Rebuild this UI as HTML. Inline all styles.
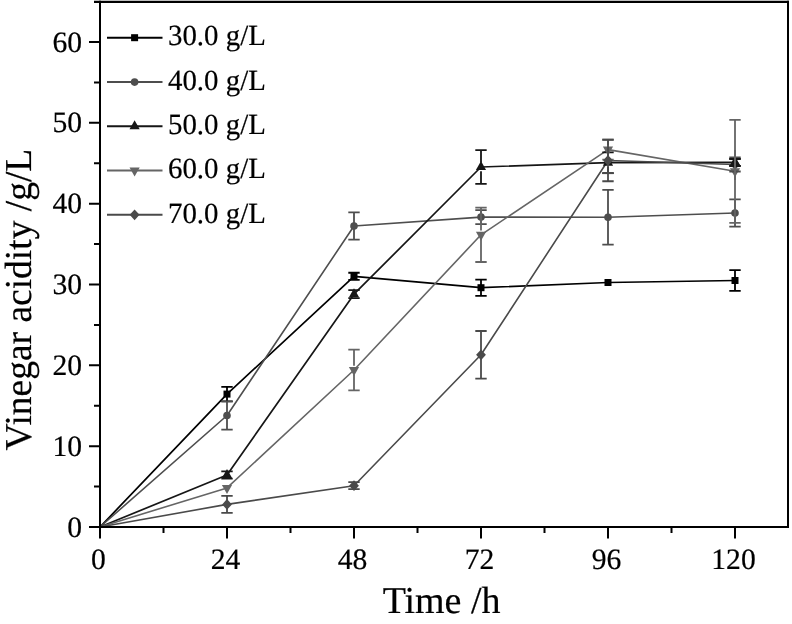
<!DOCTYPE html>
<html><head><meta charset="utf-8"><style>
html,body{margin:0;padding:0;background:#fff;width:792px;height:624px;overflow:hidden}
svg{display:block}
svg{will-change:transform}
text{text-rendering:geometricPrecision;stroke:#000;stroke-width:0.2px}
text{font-family:"Liberation Serif",serif}
</style></head><body>
<svg width="792" height="624" viewBox="0 0 792 624">
<rect width="792" height="624" fill="#fff"/>
<polyline points="100.00,527.00 227.00,394.10 354.00,276.35 481.00,287.70 608.00,282.50 735.00,280.50" fill="none" stroke="#000000" stroke-width="1.7" stroke-linejoin="round"/>
<polyline points="100.00,527.00 227.00,415.50 354.00,226.00 481.00,217.10 608.00,217.20 735.00,213.00" fill="none" stroke="#4e4e4e" stroke-width="1.6" stroke-linejoin="round"/>
<polyline points="100.00,527.00 227.00,475.00 354.00,294.20 481.00,167.00 608.00,162.70 735.00,162.40" fill="none" stroke="#161616" stroke-width="1.7" stroke-linejoin="round"/>
<polyline points="100.00,527.00 227.00,487.90 354.00,370.00 481.00,234.80 608.00,149.60 735.00,171.30" fill="none" stroke="#656565" stroke-width="1.6" stroke-linejoin="round"/>
<polyline points="100.00,527.00 227.00,504.40 354.00,485.70 481.00,354.80 608.00,160.50 735.00,164.50" fill="none" stroke="#4a4a4a" stroke-width="1.6" stroke-linejoin="round"/>
<path d="M227.00 386.80V401.40M221.30 386.80H232.70M221.30 401.40H232.70M354.00 272.75V279.95M348.30 272.75H359.70M348.30 279.95H359.70M481.00 279.60V295.80M475.30 279.60H486.70M475.30 295.80H486.70M735.00 270.10V290.90M729.30 270.10H740.70M729.30 290.90H740.70" fill="none" stroke="#000000" stroke-width="1.8"/>
<rect x="223.50" y="390.60" width="7.0" height="7.0" fill="#000000"/>
<rect x="350.50" y="272.85" width="7.0" height="7.0" fill="#000000"/>
<rect x="477.50" y="284.20" width="7.0" height="7.0" fill="#000000"/>
<rect x="604.50" y="279.00" width="7.0" height="7.0" fill="#000000"/>
<rect x="731.50" y="277.00" width="7.0" height="7.0" fill="#000000"/>
<path d="M227.00 401.30V429.70M221.30 401.30H232.70M221.30 429.70H232.70M354.00 212.40V239.60M348.30 212.40H359.70M348.30 239.60H359.70M481.00 210.10V224.10M475.30 210.10H486.70M475.30 224.10H486.70M608.00 189.80V244.60M602.30 189.80H613.70M602.30 244.60H613.70M735.00 199.40V226.60M729.30 199.40H740.70M729.30 226.60H740.70" fill="none" stroke="#4e4e4e" stroke-width="1.8"/>
<circle cx="227.00" cy="415.50" r="3.8" fill="#4e4e4e"/>
<circle cx="354.00" cy="226.00" r="3.8" fill="#4e4e4e"/>
<circle cx="481.00" cy="217.10" r="3.8" fill="#4e4e4e"/>
<circle cx="608.00" cy="217.20" r="3.8" fill="#4e4e4e"/>
<circle cx="735.00" cy="213.00" r="3.8" fill="#4e4e4e"/>
<path d="M221.30 471.40H232.70M221.30 478.60H232.70M348.30 290.20H359.70M348.30 298.20H359.70M481.00 150.15V162.70M481.00 171.30V183.85M475.30 150.15H486.70M475.30 183.85H486.70M608.00 152.30V158.40M608.00 167.00V173.10M602.30 152.30H613.70M602.30 173.10H613.70M729.30 158.90H740.70M729.30 165.90H740.70" fill="none" stroke="#161616" stroke-width="1.8"/>
<polygon points="227.00,469.00 232.10,478.00 221.90,478.00" fill="#161616"/>
<polygon points="354.00,288.20 359.10,297.20 348.90,297.20" fill="#161616"/>
<polygon points="481.00,161.00 486.10,170.00 475.90,170.00" fill="#161616"/>
<polygon points="608.00,156.70 613.10,165.70 602.90,165.70" fill="#161616"/>
<polygon points="735.00,156.40 740.10,165.40 729.90,165.40" fill="#161616"/>
<path d="M354.00 349.60V365.70M354.00 374.30V390.40M348.30 349.60H359.70M348.30 390.40H359.70M481.00 207.60V230.50M481.00 239.10V262.00M475.30 207.60H486.70M475.30 262.00H486.70M608.00 139.60V145.30M608.00 153.90V159.60M602.30 139.60H613.70M602.30 159.60H613.70M735.00 119.80V167.00M735.00 175.60V222.80M729.30 119.80H740.70M729.30 222.80H740.70" fill="none" stroke="#656565" stroke-width="1.8"/>
<polygon points="227.00,493.90 232.10,484.90 221.90,484.90" fill="#656565"/>
<polygon points="354.00,376.00 359.10,367.00 348.90,367.00" fill="#656565"/>
<polygon points="481.00,240.80 486.10,231.80 475.90,231.80" fill="#656565"/>
<polygon points="608.00,155.60 613.10,146.60 602.90,146.60" fill="#656565"/>
<polygon points="735.00,177.30 740.10,168.30 729.90,168.30" fill="#656565"/>
<path d="M227.00 495.90V512.90M221.30 495.90H232.70M221.30 512.90H232.70M354.00 482.20V489.20M348.30 482.20H359.70M348.30 489.20H359.70M481.00 331.00V378.60M475.30 331.00H486.70M475.30 378.60H486.70M608.00 139.75V181.25M602.30 139.75H613.70M602.30 181.25H613.70M735.00 157.50V171.50M729.30 157.50H740.70M729.30 171.50H740.70" fill="none" stroke="#4a4a4a" stroke-width="1.8"/>
<polygon points="227.00,499.00 231.90,504.40 227.00,509.80 222.10,504.40" fill="#4a4a4a"/>
<polygon points="354.00,480.30 358.90,485.70 354.00,491.10 349.10,485.70" fill="#4a4a4a"/>
<polygon points="481.00,349.40 485.90,354.80 481.00,360.20 476.10,354.80" fill="#4a4a4a"/>
<polygon points="608.00,155.10 612.90,160.50 608.00,165.90 603.10,160.50" fill="#4a4a4a"/>
<polygon points="735.00,159.10 739.90,164.50 735.00,169.90 730.10,164.50" fill="#4a4a4a"/>
<path d="M729.30 158.90H740.70M729.30 165.90H740.70" stroke="#161616" stroke-width="2"/>
<polygon points="735.00,156.40 740.10,165.40 729.90,165.40" fill="#161616"/>
<path d="M735.00 150V180" stroke="#656565" stroke-width="2"/>
<path d="M602.30 173.1H613.70" stroke="#4a4a4a" stroke-width="2"/>
<g fill="none" stroke="#000" stroke-width="2">
<path d="M94 1.8H789" stroke-width="2.2"/>
<path d="M100 0.7V528M788 0.7V528M99 527H789"/>
<path d="M89 527.00H100M94 486.58H100M89 446.17H100M94 405.75H100M89 365.33H100M94 324.92H100M89 284.50H100M94 244.08H100M89 203.67H100M94 163.25H100M89 122.83H100M94 82.42H100M89 42.00H100M100.00 527V538.4M163.50 527V533.1M227.00 527V538.4M290.50 527V533.1M354.00 527V538.4M417.50 527V533.1M481.00 527V538.4M544.50 527V533.1M608.00 527V538.4M671.50 527V533.1M735.00 527V538.4"/>
</g>
<g font-family="Liberation Serif" font-size="29.6" fill="#000">
<text transform="translate(82.0,536.50) scale(1.0,1.0)" text-anchor="end">0</text>
<text transform="translate(82.0,455.67) scale(1.0,1.0)" text-anchor="end">10</text>
<text transform="translate(82.0,374.83) scale(1.0,1.0)" text-anchor="end">20</text>
<text transform="translate(82.0,294.00) scale(1.0,1.0)" text-anchor="end">30</text>
<text transform="translate(82.0,213.17) scale(1.0,1.0)" text-anchor="end">40</text>
<text transform="translate(82.0,132.33) scale(1.0,1.0)" text-anchor="end">50</text>
<text transform="translate(82.0,51.50) scale(1.0,1.0)" text-anchor="end">60</text>
<text transform="translate(98.50,569.0) scale(1.0,1.0)" text-anchor="middle">0</text>
<text transform="translate(225.50,569.0) scale(1.0,1.0)" text-anchor="middle">24</text>
<text transform="translate(352.50,569.0) scale(1.0,1.0)" text-anchor="middle">48</text>
<text transform="translate(479.50,569.0) scale(1.0,1.0)" text-anchor="middle">72</text>
<text transform="translate(606.50,569.0) scale(1.0,1.0)" text-anchor="middle">96</text>
<text transform="translate(733.50,569.0) scale(1.0,1.0)" text-anchor="middle">120</text>
</g>
<text x="441.6" y="613" font-family="Liberation Serif" font-size="38" text-anchor="middle">Time /h</text>
<text transform="translate(31.3,299.6) rotate(-90) scale(0.986,1)" font-family="Liberation Serif" font-size="38" text-anchor="middle">Vinegar acidity /g/L</text>
<path d="M107 37.7H162.5" stroke="#000000" stroke-width="2"/>
<rect x="131.10" y="34.20" width="7.0" height="7.0" fill="#000000"/>
<text transform="translate(168,45.40) scale(0.985,1.0)" font-family="Liberation Serif" font-size="29.3">30.0 g/L</text>
<path d="M107 82.1H162.5" stroke="#4e4e4e" stroke-width="2"/>
<circle cx="134.60" cy="82.10" r="3.8" fill="#4e4e4e"/>
<text transform="translate(168,89.80) scale(0.985,1.0)" font-family="Liberation Serif" font-size="29.3">40.0 g/L</text>
<path d="M107 126.2H162.5" stroke="#161616" stroke-width="2"/>
<polygon points="134.60,120.20 139.70,129.20 129.50,129.20" fill="#161616"/>
<text transform="translate(168,133.90) scale(0.985,1.0)" font-family="Liberation Serif" font-size="29.3">50.0 g/L</text>
<path d="M107 170.4H162.5" stroke="#656565" stroke-width="2"/>
<polygon points="134.60,176.40 139.70,167.40 129.50,167.40" fill="#656565"/>
<text transform="translate(168,178.10) scale(0.985,1.0)" font-family="Liberation Serif" font-size="29.3">60.0 g/L</text>
<path d="M107 214.8H162.5" stroke="#4a4a4a" stroke-width="2"/>
<polygon points="134.60,209.40 139.50,214.80 134.60,220.20 129.70,214.80" fill="#4a4a4a"/>
<text transform="translate(168,222.50) scale(0.985,1.0)" font-family="Liberation Serif" font-size="29.3">70.0 g/L</text>
</svg>
</body></html>
